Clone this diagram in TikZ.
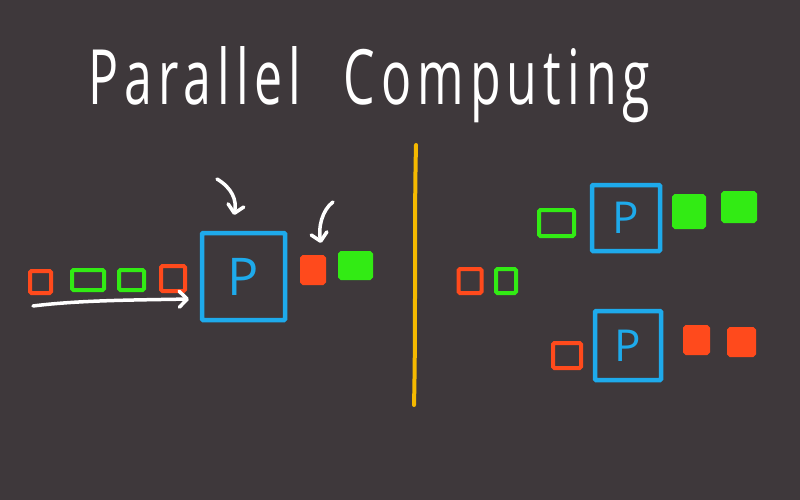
\documentclass[tikz,border=0pt]{standalone}
\usepackage{fontspec}
\setmainfont{Open Sans}
\newfontfamily\titlefont[LetterSpace=12]{Open Sans}
\usetikzlibrary{arrows.meta}
\definecolor{bg}{RGB}{62,56,59}
\definecolor{hred}{RGB}{255,74,28}
\definecolor{hgreen}{RGB}{50,235,20}
\definecolor{hblue}{RGB}{30,170,235}
\definecolor{hyellow}{RGB}{245,185,0}
\begin{document}
\begin{tikzpicture}[x=1pt,y=-1pt,
  cell/.style={line width=4pt,rounded corners=1.5pt,inner sep=0pt,outer sep=0pt},
  redo/.style={cell,draw=hred},
  greeno/.style={cell,draw=hgreen},
  redf/.style={cell,draw=hred,fill=hred},
  greenf/.style={cell,draw=hgreen,fill=hgreen},
  proc/.style={line width=4.5pt,draw=hblue,rounded corners=1pt,inner sep=0pt,outer sep=0pt,text=hblue},
  sz/.style 2 args={minimum width=#1pt-4pt,minimum height=#2pt-4pt},
  handarrow/.style={draw=white,line width=3.5pt,line cap=round,-{Straight Barb[round,length=8pt,width=16pt]}}
]
\fill[bg] (0,0) rectangle (800,500);
\useasboundingbox (0,0) rectangle (800,500);

% title
\node[anchor=base west,text=white,inner sep=0pt] (title) at (88,105)
  {\resizebox{562pt}{58pt}{\titlefont Parallel\hspace{0.85em}Computing}};

% left: sequential
\node[redo,sz={25}{26}] (r1) at (40.5,282) {};
\node[greeno,sz={36}{24}] (g1) at (88,280) {};
\node[greeno,sz={29}{24}] (g2) at (131.5,280) {};
\node[redo,sz={28}{29}] (r2) at (173,278.5) {};
\node[proc,minimum width=83pt,minimum height=87pt,font=\fontsize{52}{52}\selectfont] (PL) at (243.5,276.5) {P};
\node[redf,sz={26}{30}] (rf1) at (313,270) {};
\node[greenf,sz={35}{29}] (gf1) at (355.5,265.5) {};

\coordinate (w1) at (33,306);
\coordinate (w2) at (189,299);
\draw[handarrow] (w1) .. controls (80,300) and (140,300) .. (w2);

\coordinate (a1s) at (217,179);
\coordinate (a1e) at (234,215);
\draw[handarrow] (a1s) .. controls (232,188) and (237,200) .. (a1e);
\coordinate (a2s) at (333,202);
\coordinate (a2e) at (321,243);
\draw[handarrow] (a2s) .. controls (322,210) and (318,228) .. (a2e);

% divider
\coordinate (d1) at (416,145);
\coordinate (d2) at (414,405);
\draw[hyellow,line width=4pt,line cap=round] (d1) .. controls (414,230) and (416,320) .. (d2);

% right: parallel
\node[redo,sz={27}{28}] (r3) at (470,281) {};
\node[greeno,sz={24}{28}] (g3) at (506,281) {};

\node[greeno,sz={39}{30}] (g4) at (556.5,223) {};
\node[proc,minimum width=68pt,minimum height=66pt,font=\fontsize{44}{44}\selectfont] (PU) at (626,218) {P};
\node[greenf,sz={34}{35}] (gf2) at (689,211.5) {};
\node[greenf,sz={36}{32}] (gf3) at (739,207) {};

\node[redo,sz={32}{29}] (r4) at (567,355.5) {};
\node[proc,minimum width=66pt,minimum height=69pt,font=\fontsize{44}{44}\selectfont] (PD) at (628,345.5) {P};
\node[redf,sz={27}{30}] (rf2) at (696.5,340) {};
\node[redf,sz={29}{30}] (rf3) at (741.5,342) {};
\end{tikzpicture}
\end{document}
